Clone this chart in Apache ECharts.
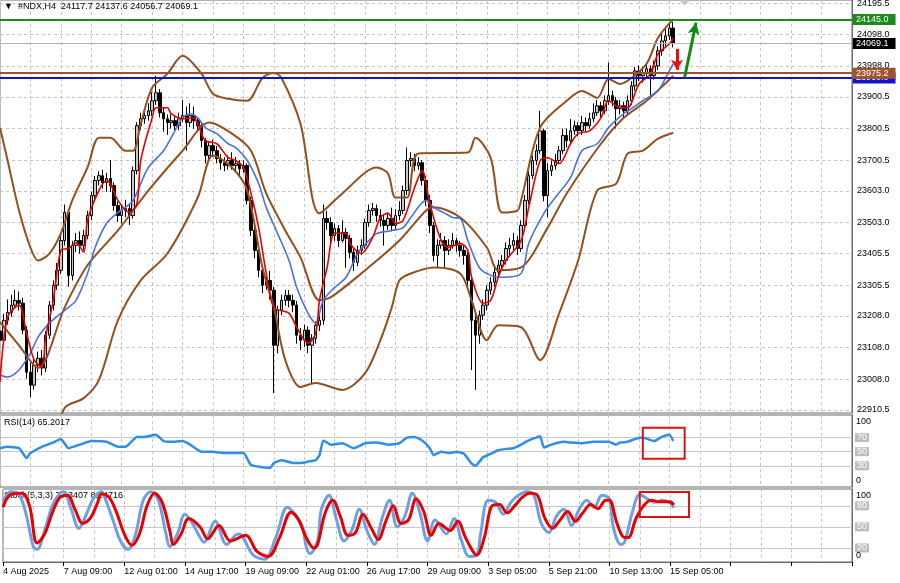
<!DOCTYPE html>
<html><head><meta charset="utf-8">
<script src="https://cdn.jsdelivr.net/npm/echarts/dist/echarts.min.js"></script>
<style>html,body{margin:0;padding:0;background:#fff}#c{width:900px;height:583px}</style>
</head><body><div id="c"></div>
<script>
// ---- time axis labels (one every 16 H4 bars) ----
const xLabels = ['4 Aug 2025','7 Aug 09:00','12 Aug 01:00','14 Aug 17:00','19 Aug 09:00','22 Aug 01:00','26 Aug 17:00','29 Aug 09:00','3 Sep 05:00','5 Sep 21:00','10 Sep 13:00','15 Sep 05:00'];
const slotCount = 225;
// ---- price tick labels (right axis) ----
const yTicks = [24195.5,24098.0,23998.0,23900.5,23800.5,23700.5,23603.0,23503.0,23405.5,23305.5,23208.0,23108.0,23008.0,22910.5];
// ---- OHLC ----
const opens = [
23160,23131,23194,23219,23242,23257,23248,23163,23030,22989,
23052,23074,23043,23147,23242,23305,23352,23446,23535,23336,
23431,23446,23431,23462,23525,23588,23636,23651,23629,23642,
23620,23557,23525,23541,23547,23525,23667,23809,23831,23841,
23856,23888,23913,23850,23831,23819,23825,23809,23831,23841,
23819,23841,23825,23809,23762,23715,23746,23730,23705,23692,
23683,23699,23683,23689,23673,23683,23573,23478,23415,23352,
23305,23320,23289,23115,23226,23257,23273,23257,23242,23147,
23131,23163,23115,23137,23178,23194,23516,23503,23462,23484,
23446,23472,23453,23409,23377,23415,23431,23503,23541,23547,
23525,23510,23494,23516,23494,23525,23541,23604,23699,23705,
23683,23692,23636,23573,23494,23399,23431,23446,23415,23431,
23446,23431,23415,23399,23320,23194,23147,23210,23242,23289,
23314,23346,23368,23383,23421,23431,23446,23421,23494,23573,
23651,23699,23730,23793,23588,23667,23683,23699,23730,23778,
23762,23793,23809,23793,23819,23809,23831,23850,23872,23856,
23888,23904,23888,23863,23872,23856,23888,23935,23982,23967,
23976,23989,23967,23998,24046,24077,24093,24117.7];
const closes = [
23131,23194,23219,23242,23257,23248,23163,23030,22989,23052,
23074,23043,23147,23242,23305,23352,23446,23535,23336,23431,
23446,23431,23462,23525,23588,23636,23651,23629,23642,23620,
23557,23525,23541,23547,23525,23667,23809,23831,23841,23856,
23888,23913,23850,23831,23819,23825,23809,23831,23841,23819,
23841,23825,23809,23762,23715,23746,23730,23705,23692,23683,
23699,23683,23689,23673,23683,23573,23478,23415,23352,23305,
23320,23289,23115,23226,23257,23273,23257,23242,23147,23131,
23163,23115,23137,23178,23194,23516,23503,23462,23484,23446,
23472,23453,23409,23377,23415,23431,23503,23541,23547,23525,
23510,23494,23516,23494,23525,23541,23604,23699,23705,23683,
23692,23636,23573,23494,23399,23431,23446,23415,23431,23446,
23431,23415,23399,23320,23194,23147,23210,23242,23289,23314,
23346,23368,23383,23421,23431,23446,23421,23494,23573,23651,
23699,23730,23793,23588,23667,23683,23699,23730,23778,23762,
23793,23809,23793,23819,23809,23831,23850,23872,23856,23888,
23904,23888,23863,23872,23856,23888,23935,23982,23967,23976,
23989,23967,23998,24046,24077,24093,24117.7,24069.1];
const highs = [
23185,23215,23260,23275,23290,23285,23265,23175,23060,23070,
23095,23100,23160,23255,23320,23375,23460,23560,23545,23445,
23470,23475,23480,23540,23600,23650,23665,23670,23660,23700,
23630,23570,23560,23575,23560,23680,23820,23850,23865,23880,
23915,23967,23925,23865,23845,23845,23840,23850,23890,23870,
23880,23870,23835,23820,23770,23760,23765,23745,23720,23710,
23715,23725,23710,23700,23700,23690,23585,23490,23425,23365,
23340,23350,23300,23240,23275,23290,23290,23275,23255,23170,
23180,23175,23150,23190,23210,23560,23540,23520,23500,23495,
23510,23485,23465,23420,23430,23450,23515,23560,23565,23560,
23545,23530,23535,23550,23545,23570,23620,23740,23725,23720,
23710,23700,23650,23590,23505,23450,23470,23460,23450,23470,
23455,23445,23430,23410,23335,23215,23225,23260,23305,23330,
23360,23385,23400,23440,23455,23470,23460,23510,23590,23665,
23715,23750,23856,23800,23690,23700,23720,23745,23800,23800,
23830,23825,23820,23840,23835,23850,23880,23890,23885,23905,
24008,23920,23900,23890,23885,23905,23950,23995,24000,23995,
24005,24000,24015,24060,24100,24120,24135,24137.6];
const lows = [
23105,23120,23180,23205,23230,23225,23150,23010,22951,22975,
23030,23020,23030,23135,23225,23290,23340,23430,23300,23320,
23410,23405,23415,23450,23510,23575,23620,23610,23600,23600,
23540,23505,23500,23520,23495,23515,23655,23795,23815,23825,
23840,23875,23835,23790,23780,23800,23795,23795,23820,23730,
23805,23800,23790,23740,23690,23700,23710,23690,23670,23665,
23670,23670,23665,23650,23660,23560,23460,23390,23330,23280,
23290,23260,22964,23090,23210,23240,23235,23220,23120,23100,
23110,23090,22996,23120,23160,23180,23480,23440,23445,23425,
23440,23360,23390,23350,23365,23400,23420,23490,23525,23505,
23490,23430,23480,23475,23480,23510,23530,23590,23680,23665,
23670,23620,23555,23470,23380,23360,23420,23360,23400,23420,
23410,23395,23370,23300,23037,22974,23120,23195,23225,23275,
23300,23330,23350,23370,23400,23415,23400,23410,23480,23560,
23640,23685,23720,23570,23520,23650,23670,23690,23720,23740,
23750,23780,23775,23780,23790,23800,23820,23840,23835,23845,
23875,23870,23800,23845,23835,23845,23875,23920,23950,23945,
23960,23900,23955,23985,24030,24060,24080,24056.7];
// ---- indicators: [bar index, value] ----
const bbUpper = [[0,23803],[2,23699],[5,23541],[8,23424],[10,23383],[13,23405],[16,23469],[19,23573],[23,23677],[26,23771],[29,23771],[33,23730],[35,23730],[37,23815],[40,23929],[44,23973],[48,24030],[53,23973],[56,23910],[60,23894],[65,23888],[69,23960],[72,23976],[74,23960],[79,23815],[84,23532],[90,23595],[99,23677],[102,23658],[104,23582],[107,23582],[110,23721],[123,23724],[125,23771],[129,23708],[132,23535],[136,23541],[137,23573],[142,23803],[149,23888],[153,23919],[157,23897],[160,23957],[163,23941],[166,23960],[170,24005],[173,24087],[177,24146]];
const bbMiddle = [[0,23188],[5,23115],[10,23043],[17,23235],[23,23368],[31,23478],[39,23604],[48,23730],[55,23819],[61,23784],[66,23730],[70,23595],[75,23478],[79,23393],[84,23257],[87,23267],[96,23352],[105,23446],[112,23541],[114,23551],[121,23519],[128,23424],[131,23352],[137,23361],[144,23487],[149,23595],[158,23752],[164,23834],[170,23888],[177,23967]];
const bbLower = [[0,22573],[10,22702],[17,22917],[22,22948],[26,23005],[31,23194],[37,23320],[44,23405],[52,23582],[56,23715],[61,23677],[65,23604],[69,23361],[72,23235],[75,23068],[79,22983],[83,22996],[90,22974],[96,23027],[100,23131],[103,23235],[105,23320],[108,23342],[114,23361],[121,23342],[124,23257],[128,23131],[131,23178],[137,23172],[142,23068],[147,23216],[152,23383],[157,23604],[162,23626],[165,23721],[169,23730],[173,23768],[177,23787]];
const fastMA = [[0,22999],[2,23204],[5,23242],[7,23153],[9,23068],[11,23046],[12,23141],[14,23257],[16,23415],[18,23421],[20,23440],[22,23409],[23,23510],[26,23604],[28,23636],[29,23626],[31,23573],[34,23535],[36,23563],[37,23699],[40,23834],[41,23866],[44,23866],[45,23847],[48,23831],[51,23834],[52,23815],[54,23762],[57,23752],[60,23708],[62,23699],[64,23677],[66,23595],[68,23487],[70,23342],[72,23235],[76,23216],[78,23172],[81,23122],[83,23153],[84,23257],[86,23361],[88,23469],[91,23469],[92,23437],[95,23405],[98,23456],[100,23519],[102,23532],[104,23500],[106,23510],[109,23614],[111,23667],[113,23563],[116,23446],[118,23424],[121,23437],[123,23415],[124,23330],[127,23248],[129,23257],[131,23330],[133,23383],[137,23446],[139,23550],[142,23699],[144,23708],[147,23689],[150,23752],[152,23784],[155,23793],[158,23834],[160,23888],[163,23866],[165,23866],[168,23941],[171,23973],[173,24036],[176,24068],[177,24087]];
const slowMA = [[0,23021],[2,23015],[5,23037],[8,23090],[10,23141],[13,23185],[16,23216],[18,23235],[20,23257],[23,23342],[25,23424],[28,23500],[31,23535],[33,23551],[35,23573],[37,23626],[39,23677],[43,23730],[45,23771],[48,23834],[50,23847],[52,23834],[54,23803],[57,23784],[60,23752],[62,23740],[65,23699],[68,23626],[70,23551],[73,23468],[76,23383],[78,23298],[81,23216],[83,23185],[85,23257],[88,23298],[91,23330],[94,23405],[97,23446],[99,23468],[103,23478],[106,23487],[108,23519],[112,23573],[114,23551],[117,23532],[119,23519],[121,23516],[123,23446],[126,23361],[129,23336],[132,23330],[137,23342],[139,23437],[143,23532],[146,23582],[150,23645],[153,23730],[157,23752],[160,23803],[164,23847],[166,23863],[169,23888],[173,23919],[175,23960],[177,24005]];
const rsi = [[0,55],[2,57],[5,55],[7,41],[8,48],[11,57],[14,63],[16,68],[18,55],[21,60],[24,65],[28,64],[31,57],[33,57],[36,71],[38,71],[41,74],[43,65],[45,64],[48,65],[50,60],[53,50],[56,50],[59,48],[64,48],[66,31],[69,28],[71,27],[72,34],[74,38],[77,34],[79,34],[81,36],[83,38],[84,45],[85,66],[87,60],[90,62],[93,55],[96,62],[99,63],[102,60],[105,62],[107,70],[109,71],[111,66],[113,55],[114,45],[116,50],[118,48],[120,50],[122,47],[124,33],[125,30],[127,42],[129,47],[131,52],[133,54],[135,55],[137,60],[139,66],[141,70],[142,72],[143,56],[145,60],[148,64],[150,63],[153,62],[156,64],[158,64],[160,64],[162,60],[163,63],[165,64],[167,68],[169,70],[172,65],[174,71],[176,74],[177,65.2017]];
const stochMain = [[0,85],[2,100],[4,98],[6,70],[8,22],[9,18],[11,45],[13,80],[15,98],[16,100],[18,75],[20,48],[22,68],[24,92],[26,100],[27,90],[29,60],[31,30],[33,18],[35,40],[37,88],[39,100],[41,88],[43,40],[44,22],[46,40],[48,68],[50,55],[52,35],[53,28],[56,58],[59,25],[62,40],[63,38],[66,10],[69,4],[72,35],[75,78],[77,68],[79,50],[80,22],[81,12],[83,30],[84,75],[86,95],[88,60],[90,30],[92,45],[94,75],[96,45],[98,25],[100,62],[102,88],[104,50],[106,65],[108,98],[110,70],[112,30],[114,60],[117,40],[119,62],[121,30],[123,8],[125,10],[126,40],[128,88],[130,85],[132,68],[134,85],[136,95],[138,100],[140,96],[142,55],[144,42],[146,65],[148,75],[150,52],[152,75],[154,88],[156,78],[158,95],[160,90],[161,50],[163,25],[164,28],[166,70],[168,96],[170,90],[172,85],[174,88],[176,84],[177,77.3407]];
const stochSignal = [[0,78],[2,96],[5,98],[7,80],[9,27],[11,40],[13,70],[15,92],[17,95],[19,75],[21,55],[23,62],[25,85],[26,97],[28,92],[30,70],[32,40],[34,24],[36,40],[38,80],[40,98],[42,85],[44,45],[45,25],[47,40],[49,62],[52,50],[54,33],[57,52],[60,30],[64,38],[67,15],[70,8],[73,35],[76,71],[78,60],[80,35],[82,20],[83,25],[85,70],[87,88],[89,65],[91,38],[93,42],[95,68],[97,50],[99,32],[101,58],[103,80],[105,55],[107,60],[109,90],[111,72],[113,38],[115,55],[118,45],[120,58],[122,35],[124,15],[125,10],[127,35],[129,80],[131,82],[133,70],[135,80],[137,92],[139,98],[141,95],[143,62],[145,48],[147,60],[149,72],[151,58],[153,70],[155,82],[157,76],[159,88],[160,88],[162,55],[164,35],[165,35],[167,62],[169,80],[171,88],[173,86],[176,86],[177,81.4716]];
// ---- horizontal price levels ----
const levelGreen = 24145.0, levelBid = 24069.1, levelBrown = 23975.2, levelBlue = 23960.0;

const FONT = 'Liberation Sans';
const cats = Array.from({length: slotCount}, (_, i) => String(i));
const candles = opens.map((o, i) => [o, closes[i], lows[i], highs[i]]);

const chart = echarts.init(document.getElementById('c'), null, {renderer: 'canvas'});
const vSplit = {show: true, interval: 7, lineStyle: {color: '#c4c4c4', type: [3, 3], width: 1}};
function xa(idx, labels) {
  return {
    type: 'category', gridIndex: idx, data: cats, boundaryGap: false,
    axisLine: {show: labels, lineStyle: {color: '#6a6a6a'}},
    axisTick: {show: labels, interval: 15, length: 4, lineStyle: {color: '#000'}},
    axisLabel: {show: labels, interval: 15, align: 'left', margin: 5, color: '#000', fontFamily: FONT, fontSize: 9,
      formatter: (v, i) => xLabels[i / 16] || ''},
    splitLine: vSplit
  };
}
function ya(idx, min, max) {
  return {type: 'value', gridIndex: idx, position: 'right', min: min, max: max, scale: true,
    axisLine: {show: true, lineStyle: {color: '#6a6a6a'}}, axisTick: {show: false},
    axisLabel: {show: false}, splitLine: {show: false}};
}
const tag = (bg, fg) => ({show: true, position: 'end', distance: 1, backgroundColor: bg, color: fg,
  padding: [1, 7, 1, 3], fontFamily: FONT, fontSize: 9, formatter: p => p.value.toFixed(1)});
const levelLbl = (txt) => ({show: true, position: 'end', distance: 3, backgroundColor: '#bdbdbd', color: '#ffffff',
  padding: [0, 2], fontFamily: FONT, fontSize: 9, formatter: txt});
const plainLbl = (txt, dy) => ({show: true, position: 'end', distance: 4, color: '#000', fontFamily: FONT, fontSize: 9,
  formatter: txt, offset: [0, dy]});
const hidden = {color: 'rgba(0,0,0,0)', width: 1, type: 'solid'};
const brown = {color: '#93501f', width: 2};

const option = {
  animation: false,
  backgroundColor: '#fff',
  grid: [
    {left: -1, right: 48, top: -1, height: 414, show: true, borderColor: '#6a6a6a', borderWidth: 1},
    {left: -1, right: 48, top: 415, height: 72, show: true, borderColor: '#6a6a6a', borderWidth: 1},
    {left: -1, right: 48, top: 489, height: 73, show: true, borderColor: '#6a6a6a', borderWidth: 1}
  ],
  xAxis: [xa(0, false), xa(1, false), xa(2, true)],
  yAxis: [ya(0, 22901, 24206.4), ya(1, 0, 102), ya(2, 0, 104)],
  series: [
    {type: 'line', name: 'BB upper', xAxisIndex: 0, yAxisIndex: 0, data: bbUpper, smooth: 0.3, showSymbol: false, silent: true, z: 3, lineStyle: brown,
      markLine: {silent: true, symbol: 'none', z: 1, animation: false,
        lineStyle: {color: '#c4c4c4', type: [3, 3], width: 1},
        label: {show: true, position: 'end', distance: 5, color: '#000', fontFamily: FONT, fontSize: 9, formatter: p => p.value.toFixed(1)},
        data: yTicks.map(v => ({yAxis: v}))}},
    {type: 'line', name: 'BB middle', xAxisIndex: 0, yAxisIndex: 0, data: bbMiddle, smooth: 0.3, showSymbol: false, silent: true, z: 3, lineStyle: brown},
    {type: 'line', name: 'BB lower', xAxisIndex: 0, yAxisIndex: 0, data: bbLower, smooth: 0.3, showSymbol: false, silent: true, z: 3, lineStyle: brown},
    {type: 'candlestick', name: 'NDX', xAxisIndex: 0, yAxisIndex: 0, data: candles, barWidth: 3, z: 2, silent: true,
      itemStyle: {color: '#c8c8c8', color0: '#000', borderColor: '#000', borderColor0: '#000', borderWidth: 1},
      markPoint: {silent: true, z: 6, data: [{coord: [180, 24203], symbol: 'diamond', symbolSize: [9, 9], itemStyle: {color: '#c8c8c8'}, label: {show: false}}]},
      markLine: {silent: true, symbol: 'none', z: 6, animation: false,
        data: [
          {yAxis: levelGreen, lineStyle: {color: '#1e8a1e', width: 2, type: 'solid'}, label: tag('#1e8a1e', '#fff')},
          {yAxis: levelBid, lineStyle: {color: '#b4b4b4', width: 1, type: 'solid'}, label: tag('#000', '#fff')},
          {yAxis: levelBlue, lineStyle: {color: '#1414b4', width: 2, type: 'solid'}, label: tag('#1414d0', '#fff')},
          {yAxis: levelBrown, lineStyle: {color: '#a0522d', width: 2, type: 'solid'}, label: tag('#a0522d', '#fff')},
          [{coord: [178, 24052], symbol: 'none', lineStyle: {color: '#e81010', width: 3, type: 'solid'}, label: {show: false}},
           {coord: [178, 23986], symbol: 'arrow', symbolSize: [9, 10]}],
          [{coord: [180, 23962], symbol: 'none', lineStyle: {color: '#138a13', width: 3, type: 'solid'}, label: {show: false}},
           {coord: [183, 24135], symbol: 'arrow', symbolSize: [9, 12]}]
        ]}},
    {type: 'line', name: 'slow MA', xAxisIndex: 0, yAxisIndex: 0, data: slowMA, smooth: 0.3, showSymbol: false, silent: true, z: 4, lineStyle: {color: '#4b72d8', width: 1.6}},
    {type: 'line', name: 'fast MA', xAxisIndex: 0, yAxisIndex: 0, data: fastMA, smooth: 0.3, showSymbol: false, silent: true, z: 5, lineStyle: {color: '#e80000', width: 1.6}},
    {type: 'line', name: 'RSI', xAxisIndex: 1, yAxisIndex: 1, data: rsi, smooth: 0.15, showSymbol: false, silent: true, z: 3, lineStyle: {color: '#2f8ee8', width: 2.5},
      markLine: {silent: true, symbol: 'none', z: 1, animation: false,
        data: [
          {yAxis: 100, lineStyle: hidden, label: plainLbl('100', 5)},
          {yAxis: 70, lineStyle: {color: '#c8c8c8', width: 1, type: 'solid'}, label: levelLbl('70')},
          {yAxis: 50, lineStyle: {color: '#c8c8c8', width: 1, type: 'solid'}, label: levelLbl('50')},
          {yAxis: 30, lineStyle: {color: '#c8c8c8', width: 1, type: 'solid'}, label: levelLbl('30')},
          {yAxis: 0, lineStyle: hidden, label: plainLbl('0', -6)}
        ]},
      markArea: {silent: true, z: 6, itemStyle: {color: 'rgba(0,0,0,0)', borderColor: '#e01010', borderWidth: 2},
        data: [[{coord: [169, 84]}, {coord: [180, 40]}]]}},
    {type: 'line', name: 'Stoch main', xAxisIndex: 2, yAxisIndex: 2, data: stochMain, smooth: 0.35, showSymbol: false, silent: true, z: 3, lineStyle: {color: '#6f9fe0', width: 3},
      markLine: {silent: true, symbol: 'none', z: 1, animation: false,
        data: [
          {yAxis: 100, lineStyle: hidden, label: plainLbl('100', 4)},
          {yAxis: 80, lineStyle: {color: '#c8c8c8', width: 1, type: 'solid'}, label: levelLbl('80')},
          {yAxis: 50, lineStyle: {color: '#c8c8c8', width: 1, type: 'solid'}, label: levelLbl('50')},
          {yAxis: 20, lineStyle: {color: '#c8c8c8', width: 1, type: 'solid'}, label: levelLbl('20')},
          {yAxis: 0, lineStyle: hidden, label: plainLbl('0', -6)}
        ]},
      markArea: {silent: true, z: 6, itemStyle: {color: 'rgba(0,0,0,0)', borderColor: '#e01010', borderWidth: 2},
        data: [[{coord: [168, 99.7]}, {coord: [181, 64]}]]}},
    {type: 'line', name: 'Stoch signal', xAxisIndex: 2, yAxisIndex: 2, data: stochSignal, smooth: 0.35, showSymbol: false, silent: true, z: 4, lineStyle: {color: '#e80000', width: 3}}
  ],
  graphic: [
    {type: 'text', left: 4, top: 2, z: 100, style: {text: '▼  #NDX,H4  24117.7 24137.6 24056.7 24069.1', font: '9px "Liberation Sans"', fill: '#000'}},
    {type: 'text', left: 4, top: 418, z: 100, style: {text: 'RSI(14) 65.2017', font: '9px "Liberation Sans"', fill: '#000'}},
    {type: 'text', left: 4, top: 491, z: 0, style: {text: 'Stoch(5,3,3) 77.3407 81.4716', font: '9px "Liberation Sans"', fill: '#000'}}
  ]
};
chart.setOption(option);
</script>
</body></html>
